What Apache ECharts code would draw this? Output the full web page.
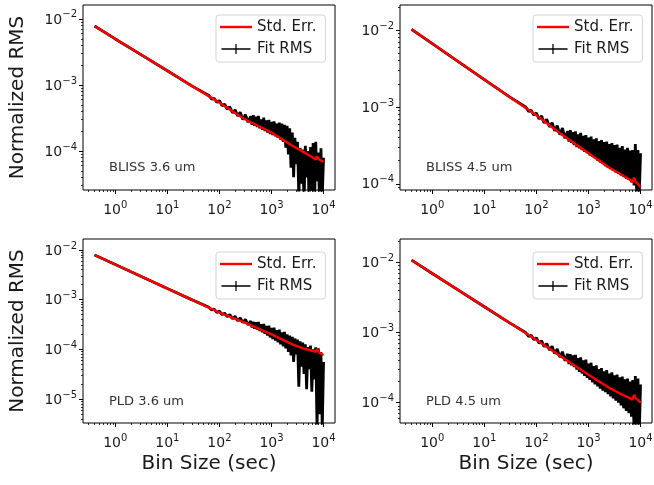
<!DOCTYPE html>
<html>
<head>
<meta charset="utf-8">
<script src="https://cdn.jsdelivr.net/npm/echarts@6/dist/echarts.min.js"></script>
<style>
  html, body { margin: 0; padding: 0; background: #fff; }
  #chart { width: 654px; height: 485px; }
</style>
</head>
<body>
<div id="chart"></div>
<script>
// bin sizes (sec) for the fit rms curves
const binSize = [0.4, 1, 3, 10, 30,
  63, 71, 79, 89, 100, 112, 126, 141, 158, 178, 200, 224, 251, 282, 316, 355, 398,
  422, 447, 473, 501, 531, 562, 596, 631, 668, 708, 750, 794, 841, 891, 944, 1000,
  1059, 1122, 1189, 1259, 1334, 1413, 1496, 1585, 1679, 1778, 1884, 1995, 2113, 2239,
  2371, 2512, 2661, 2818, 2985, 3162,
  3350, 3548, 3758, 3981, 4217, 4467, 4732, 5012, 5309, 5623, 5957, 6310, 6683, 7079,
  7499, 7943, 8414, 8913, 9441, 10000];

// bin sizes for the standard error curves
const stdErrBins = [0.4, 1, 3, 10, 30, 100, 300, 1000, 2500, 4000, 6300, 7000, 7500, 8000, 10000];

const blissCh1Err = [7.8e-3, 4.97e-3, 2.93e-3, 1.64e-3, 9.6e-4, 5.4e-4, 3.05e-4, 1.9e-4, 1.2e-4, 9.8e-5, 7.9e-5, 7.4e-5, 8.3e-5, 7.6e-5, 6.8e-5];
const blissCh2Err = [1.02e-2, 6.65e-3, 3.98e-3, 2.27e-3, 1.36e-3, 7.8e-4, 4.4e-4, 2.5e-4, 1.62e-4, 1.35e-4, 1.12e-4, 1.05e-4, 1.2e-4, 1.07e-4, 9.1e-5];
const pldCh1Err = [7.9e-3, 5.1e-3, 3.0e-3, 1.67e-3, 9.9e-4, 5.5e-4, 3.5e-4, 2.0e-4, 1.26e-4, 1.05e-4, 9.3e-5, 8.9e-5, 1.02e-4, 8.9e-5, 7.6e-5];
const pldCh2Err = [1.07e-2, 6.9e-3, 4.1e-3, 2.32e-3, 1.38e-3, 7.8e-4, 4.5e-4, 2.5e-4, 1.62e-4, 1.35e-4, 1.15e-4, 1.1e-4, 1.29e-4, 1.17e-4, 1.0e-4];

const blissCh1Rms = [7.8e-3, 4.97e-3, 2.93e-3, 1.64e-3, 9.6e-4,
  6.9e-4, 6.1e-4, 6.3e-4, 5.45e-4, 5.8e-4, 4.85e-4, 5.1e-4, 4.3e-4, 4.65e-4, 3.8e-4, 4.2e-4, 3.4e-4, 3.85e-4, 3.0e-4, 3.55e-4, 2.72e-4, 3.35e-4,
  2.5e-4, 3.5e-4, 2.4e-4, 3.3e-4, 2.3e-4, 3.4e-4, 2.2e-4, 3.0e-4, 2.1e-4, 3.2e-4, 2.0e-4, 2.9e-4, 1.9e-4, 2.95e-4, 1.8e-4, 2.75e-4,
  1.74e-4, 2.8e-4, 1.66e-4, 2.6e-4, 1.58e-4, 2.7e-4, 1.48e-4, 2.6e-4, 1.38e-4, 2.5e-4, 1.12e-4, 2.4e-4, 8.9e-5, 2.2e-4, 5.6e-5, 1.9e-4, 4.0e-5, 1.58e-4, 6.3e-5, 1.38e-4,
  2.0e-5, 1.12e-4, 3.2e-5, 1.05e-4, 1.6e-5, 1.2e-4, 4.0e-5, 1.0e-4, 1.26e-5, 1.15e-4, 2.5e-5, 1.32e-4, 1.26e-5, 1.38e-4, 3.5e-5, 9.5e-5, 1.26e-5, 1.1e-4, 2.0e-5, 7.9e-5];
const blissCh2Rms = [1.02e-2, 6.65e-3, 3.98e-3, 2.27e-3, 1.36e-3,
  9.9e-4, 8.7e-4, 9.1e-4, 7.85e-4, 8.35e-4, 7.0e-4, 7.6e-4, 6.2e-4, 6.9e-4, 5.5e-4, 6.25e-4, 4.9e-4, 5.7e-4, 4.35e-4, 5.3e-4, 3.9e-4, 4.85e-4,
  3.55e-4, 5.0e-4, 3.4e-4, 4.7e-4, 3.2e-4, 4.8e-4, 3.0e-4, 4.4e-4, 2.9e-4, 4.6e-4, 2.75e-4, 4.2e-4, 2.6e-4, 4.3e-4, 2.5e-4, 4.0e-4,
  2.35e-4, 4.1e-4, 2.25e-4, 3.8e-4, 2.15e-4, 3.9e-4, 2.0e-4, 3.6e-4, 1.9e-4, 3.7e-4, 1.82e-4, 3.5e-4, 1.7e-4, 3.55e-4, 1.62e-4, 3.3e-4, 1.55e-4, 3.4e-4, 1.48e-4, 3.2e-4,
  1.41e-4, 3.25e-4, 1.35e-4, 2.95e-4, 1.29e-4, 3.1e-4, 1.23e-4, 2.8e-4, 1.17e-4, 2.95e-4, 1.12e-4, 2.7e-4, 1.05e-4, 2.75e-4, 9.5e-5, 3.3e-4, 7.9e-5, 2.75e-4, 7.1e-5, 2.5e-4];
const pldCh1Rms = [7.9e-3, 5.1e-3, 3.0e-3, 1.67e-3, 9.9e-4,
  7.05e-4, 6.2e-4, 6.45e-4, 5.55e-4, 5.9e-4, 5.0e-4, 5.35e-4, 4.55e-4, 5.0e-4, 4.15e-4, 4.65e-4, 3.75e-4, 4.3e-4, 3.45e-4, 4.0e-4, 3.1e-4, 3.7e-4,
  2.75e-4, 3.6e-4, 2.6e-4, 3.5e-4, 2.5e-4, 3.55e-4, 2.35e-4, 3.2e-4, 2.2e-4, 3.25e-4, 2.05e-4, 2.95e-4, 1.9e-4, 3.0e-4, 1.74e-4, 2.7e-4,
  1.62e-4, 2.75e-4, 1.51e-4, 2.45e-4, 1.38e-4, 2.5e-4, 1.26e-4, 2.2e-4, 1.15e-4, 2.25e-4, 1.05e-4, 2.0e-4, 8.9e-5, 1.9e-4, 7.6e-5, 1.78e-4, 5.6e-5, 1.66e-4, 7.9e-5, 1.58e-4,
  1.78e-5, 1.45e-4, 4.5e-5, 1.38e-4, 3.2e-5, 1.26e-4, 1.58e-5, 1.12e-4, 4.0e-5, 1.2e-4, 1.41e-5, 1.0e-4, 2.5e-5, 1.1e-4, 2.5e-6, 1.05e-4, 5.0e-6, 8.9e-5, 2.5e-6, 5.6e-5];
const pldCh2Rms = [1.07e-2, 6.9e-3, 4.1e-3, 2.32e-3, 1.38e-3,
  9.9e-4, 8.75e-4, 9.1e-4, 7.9e-4, 8.35e-4, 7.05e-4, 7.6e-4, 6.25e-4, 6.95e-4, 5.6e-4, 6.35e-4, 5.0e-4, 5.8e-4, 4.45e-4, 5.3e-4, 3.95e-4, 4.95e-4,
  3.55e-4, 4.9e-4, 3.4e-4, 4.7e-4, 3.2e-4, 4.8e-4, 2.95e-4, 4.3e-4, 2.75e-4, 4.4e-4, 2.6e-4, 4.0e-4, 2.4e-4, 4.1e-4, 2.25e-4, 3.6e-4,
  2.1e-4, 3.7e-4, 1.95e-4, 3.3e-4, 1.82e-4, 3.4e-4, 1.7e-4, 3.0e-4, 1.58e-4, 3.1e-4, 1.48e-4, 2.8e-4, 1.41e-4, 2.9e-4, 1.32e-4, 2.6e-4, 1.23e-4, 2.7e-4, 1.15e-4, 2.45e-4,
  1.07e-4, 2.5e-4, 1.0e-4, 2.3e-4, 9.1e-5, 2.35e-4, 8.3e-5, 2.15e-4, 7.6e-5, 2.2e-4, 7.1e-5, 2.0e-4, 6.3e-5, 2.1e-4, 4.0e-5, 2.4e-4, 3.2e-5, 2.2e-4, 3.5e-5, 1.82e-4];

const panelLabels = ['BLISS 3.6 um', 'BLISS 4.5 um', 'PLD 3.6 um', 'PLD 4.5 um'];
const xTicks = [1, 10, 100, 1000, 10000];
const yTicks = [[1e-4, 1e-3, 1e-2], [1e-4, 1e-3, 1e-2], [1e-5, 1e-4, 1e-3, 1e-2], [1e-4, 1e-3, 1e-2]];

const errSeries = [blissCh1Err, blissCh2Err, pldCh1Err, pldCh2Err];
const rmsSeries = [blissCh1Rms, blissCh2Rms, pldCh1Rms, pldCh2Rms];

// layout of the four panels (pixels) and axis extents (log10)
const panels = [
  { left: 83, top: 5, height: 185, yExp: [-4.59, -1.79], legendTop: 15, textTop: 161 },
  { left: 400, top: 5, height: 185, yExp: [-4.08, -1.675], legendTop: 15, textTop: 161 },
  { left: 83, top: 239, height: 184, yExp: [-5.48, -1.78], legendTop: 252, textTop: 395 },
  { left: 400, top: 239, height: 184, yExp: [-4.29, -1.67], legendTop: 252, textTop: 395 }
];
const panelWidth = 252;
const xExp = [-0.62, 4.22];

const minorTicks = [];
for (let e = -7; e <= 4; e++) {
  for (let m = 2; m <= 9; m++) minorTicks.push(m * Math.pow(10, e));
}

const font = 'DejaVu Sans';
const ink = '#1a1a1a';

const powLabel = (v) => {
  const e = Math.round(Math.log10(v));
  return '{b|10}{s|' + String(e).replace('-', '\u2212') + '}';
};
const labelRich = {
  b: { fontSize: 14, fontFamily: font, color: ink, verticalAlign: 'bottom', lineHeight: 16 },
  s: { fontSize: 10, fontFamily: font, color: ink, verticalAlign: 'bottom', lineHeight: 11, padding: [0, 0, 7, 0] }
};

const redIcon = 'path://M0,0L0,0M32,10L32,10M0,3.8h32v2.4h-32z';
const crossIcon = 'path://M0,0L0,0M32,10L32,10M0,4.3h32v1.4h-32zM15.3,-0.5h1.4v11h-1.4z';

const grid = [], xAxis = [], yAxis = [], series = [], legend = [], title = [];

panels.forEach((p, i) => {
  const isLeft = i % 2 === 0;
  const isBottom = i >= 2;
  grid.push({
    left: p.left, top: p.top, width: panelWidth, height: p.height,
    show: true, borderColor: '#000', borderWidth: 1, backgroundColor: 'transparent',
    containLabel: false, outerBoundsMode: 'none'
  });

  const xMin = Math.pow(10, xExp[0]), xMax = Math.pow(10, xExp[1]);
  const yMin = Math.pow(10, p.yExp[0]), yMax = Math.pow(10, p.yExp[1]);

  xAxis.push({
    type: 'log', gridIndex: i, position: 'bottom', min: xMin, max: xMax,
    axisLine: { show: false }, splitLine: { show: false },
    axisTick: { customValues: xTicks, length: 4, lineStyle: { color: '#000', width: 1 } },
    axisLabel: { customValues: xTicks, formatter: powLabel, rich: labelRich, margin: 11 },
    name: isBottom ? 'Bin Size (sec)' : '',
    nameLocation: 'middle', nameGap: 31,
    nameTextStyle: { fontSize: 20, fontFamily: font, color: ink }
  });
  xAxis.push({
    type: 'log', gridIndex: i, position: 'bottom', min: xMin, max: xMax,
    axisLine: { show: false }, splitLine: { show: false }, axisLabel: { show: false },
    axisTick: { customValues: minorTicks, length: 2, lineStyle: { color: '#000', width: 0.8 } }
  });
  yAxis.push({
    type: 'log', gridIndex: i, position: 'left', min: yMin, max: yMax,
    axisLine: { show: false }, splitLine: { show: false },
    axisTick: { customValues: yTicks[i], length: 4, lineStyle: { color: '#000', width: 1 } },
    axisLabel: { customValues: yTicks[i], formatter: powLabel, rich: labelRich, margin: 6 },
    name: isLeft ? 'Normalized RMS' : '',
    nameLocation: 'middle', nameGap: 55,
    nameTextStyle: { fontSize: 20, fontFamily: font, color: ink }
  });
  yAxis.push({
    type: 'log', gridIndex: i, position: 'left', min: yMin, max: yMax,
    axisLine: { show: false }, splitLine: { show: false }, axisLabel: { show: false },
    axisTick: { customValues: minorTicks, length: 2, lineStyle: { color: '#000', width: 0.8 } }
  });

  series.push({
    name: 'Fit RMS', type: 'line', xAxisIndex: 2 * i, yAxisIndex: 2 * i,
    data: binSize.map((b, k) => [b, rmsSeries[i][k]]),
    symbol: 'none', clip: true, z: 2,
    lineStyle: { color: '#000', width: 2.8, join: 'bevel' }, itemStyle: { color: '#000' }
  });
  series.push({
    name: 'Std. Err.', type: 'line', xAxisIndex: 2 * i, yAxisIndex: 2 * i,
    data: stdErrBins.map((b, k) => [b, errSeries[i][k]]),
    symbol: 'none', clip: true, z: 3,
    lineStyle: { color: '#f00', width: 2.4 }, itemStyle: { color: '#f00' }
  });

  legend.push({
    orient: 'vertical', selectedMode: false,
    left: p.left + 133, top: p.legendTop,
    data: [{ name: 'Std. Err.', icon: redIcon }, { name: 'Fit RMS', icon: crossIcon }],
    itemWidth: 32, itemHeight: 10, itemGap: 4,
    padding: [3, 9, 4, 4],
    itemStyle: { borderWidth: 0 },
    textStyle: { fontSize: 15, fontFamily: font, color: ink, lineHeight: 18 },
    borderColor: '#d4d4d4', borderWidth: 1, borderRadius: 3,
    backgroundColor: 'rgba(255,255,255,0.85)'
  });

  title.push({
    text: panelLabels[i], left: p.left + 26, top: p.textTop, padding: 0,
    textStyle: { fontSize: 13, fontWeight: 'normal', fontFamily: font, color: '#333' }
  });
});

const chart = echarts.init(document.getElementById('chart'), null, { renderer: 'canvas' });
chart.setOption({
  animation: false,
  backgroundColor: '#fff',
  textStyle: { fontFamily: font },
  title, grid, xAxis, yAxis, legend, series
});
</script>
</body>
</html>
